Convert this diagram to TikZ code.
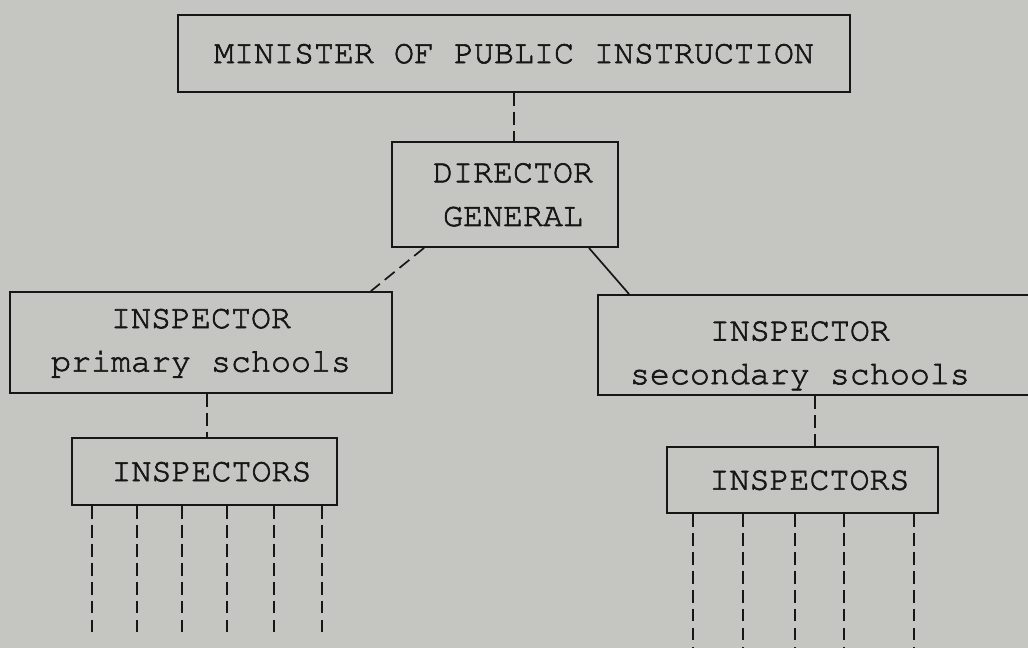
\documentclass[tikz,border=0pt]{standalone}
\usepackage[T1]{fontenc}
\renewcommand{\ttdefault}{pcr}
\usetikzlibrary{positioning}
\definecolor{paper}{RGB}{197,197,194}
\definecolor{ink}{RGB}{22,22,22}
% typewriter ink: stroke the glyph outlines a little
\newcommand{\typed}{\special{pdf:literal q 2 Tr 0.45 w}\aftergroup\untyped}
\newcommand{\untyped}{\special{pdf:literal Q}}

\begin{document}
\begin{tikzpicture}[x=0.025cm,y=-0.025cm,
    box/.style={draw=ink,line width=1.3pt,rectangle,inner sep=0pt,align=center,
      font=\ttfamily\fontsize{23.7}{31}\selectfont,text=ink,
      execute at begin node=\typed},
    link/.style={draw=ink,line width=1.2pt},
    dashlink/.style={link,dash pattern=on 9pt off 4.5pt}]
    \fill[paper] (0,0) rectangle (1028,648);
    \clip (0,0) rectangle (1028,648);

    % boxes
    \node[box,minimum width=16.8cm,minimum height=1.925cm] (minister) at (514,53.5)
        {MINISTER OF PUBLIC INSTRUCTION};
    \node[box,minimum width=5.65cm,minimum height=2.625cm] (director) at (505,194.5)
        {\hspace*{0.4cm}DIRECTOR\\\hspace*{0.4cm}GENERAL};
    \node[box,minimum width=9.55cm,minimum height=2.525cm] (primary) at (201,342.5)
        {INSPECTOR\\primary schools};
    \node[box,minimum width=11.175cm,minimum height=2.5cm,
        label={[box,draw=none,xshift=-0.54cm,yshift=-0.25cm]center:INSPECTOR\\secondary schools}]
        (secondary) at (821.5,345) {};
    \node[box,minimum width=6.625cm,minimum height=1.675cm] (inspL) at (204.5,471.5)
        {\hspace*{0.35cm}INSPECTORS};
    \node[box,minimum width=6.775cm,minimum height=1.65cm] (inspR) at (802.5,480)
        {\hspace*{0.35cm}INSPECTORS};

    % links between the levels
    \draw[dashlink] (minister.south) -- (minister.south |- director.north);
    \draw[dashlink] ([xshift=0.825cm]director.south west) -- ([xshift=-0.55cm]primary.north west -| primary.north east);
    \draw[link] ([xshift=-0.75cm]director.south east) -- ([xshift=0.8cm]secondary.north west);
    \coordinate (pL) at ([xshift=0.15cm]primary.south);
    \coordinate (pR) at ([xshift=-0.16cm]secondary.south);
    \draw[dashlink] (pL) -- (pL |- inspL.north);
    \draw[dashlink] (pR) -- (pR |- inspR.north);

    % the inspectors below
    \foreach \x [count=\i] in {92,137,182,227,274,322}{
        \coordinate (ll\i) at (\x,633);
        \draw[dashlink] (ll\i |- inspL.south) -- (ll\i);
    }
    \foreach \x [count=\i] in {693,743,795,844,914}{
        \coordinate (lr\i) at (\x,648);
        \draw[dashlink] (lr\i |- inspR.south) -- (lr\i);
    }
\end{tikzpicture}
\end{document}
